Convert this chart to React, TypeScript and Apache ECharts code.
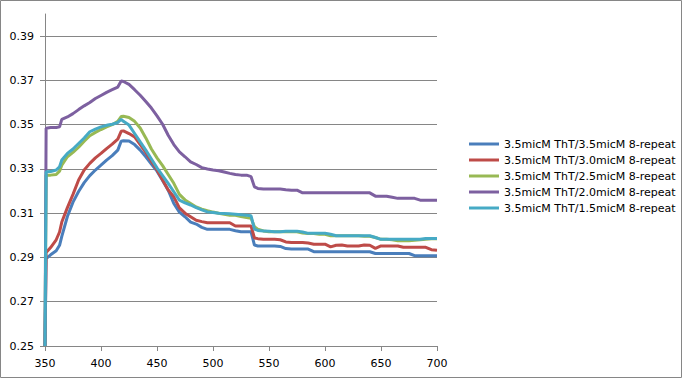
import React, { useEffect, useRef } from "react";
import * as echarts from "echarts";

const wavelengths = [350, 351, 355, 360, 363, 365, 370, 375, 380, 385, 390, 395, 400, 405, 410, 415, 418, 420, 425, 430, 435, 440, 445, 450, 455, 460, 465, 470, 475, 480, 485, 490, 495, 500, 505, 510, 515, 520, 525, 530, 534, 537, 540, 545, 550, 555, 560, 565, 570, 575, 580, 585, 590, 595, 600, 605, 610, 615, 620, 625, 630, 635, 640, 645, 650, 655, 660, 665, 670, 675, 680, 685, 690, 695, 700];

const s35 = [0.25, 0.2895, 0.2912, 0.293, 0.2955, 0.2995, 0.3085, 0.315, 0.3198, 0.3238, 0.327, 0.3295, 0.3317, 0.334, 0.336, 0.3385, 0.3425, 0.3427, 0.3426, 0.341, 0.3385, 0.3355, 0.3322, 0.329, 0.3248, 0.3204, 0.3144, 0.3105, 0.3084, 0.306, 0.3051, 0.3036, 0.3027, 0.3027, 0.3027, 0.3027, 0.3027, 0.3021, 0.3016, 0.3016, 0.3016, 0.2956, 0.2952, 0.2952, 0.2952, 0.2952, 0.295, 0.294, 0.2938, 0.2938, 0.2938, 0.2938, 0.2926, 0.2926, 0.2926, 0.2926, 0.2926, 0.2926, 0.2926, 0.2926, 0.2926, 0.2926, 0.2926, 0.2918, 0.2918, 0.2918, 0.2918, 0.2918, 0.2918, 0.2918, 0.2908, 0.2908, 0.2908, 0.2908, 0.2908];

const s30 = [0.25, 0.2922, 0.2945, 0.298, 0.3015, 0.306, 0.3125, 0.3185, 0.325, 0.3295, 0.3325, 0.335, 0.337, 0.3392, 0.3412, 0.3435, 0.347, 0.3472, 0.346, 0.3445, 0.341, 0.3375, 0.3335, 0.3295, 0.325, 0.3205, 0.3174, 0.3124, 0.31, 0.3084, 0.3068, 0.3062, 0.3057, 0.3057, 0.3057, 0.3057, 0.3057, 0.3042, 0.3042, 0.3042, 0.3042, 0.2988, 0.2985, 0.2982, 0.2982, 0.2982, 0.298, 0.297, 0.2968, 0.2968, 0.2968, 0.2965, 0.296, 0.296, 0.296, 0.2948, 0.2955, 0.2956, 0.2952, 0.2952, 0.2952, 0.2956, 0.2955, 0.2941, 0.2952, 0.2952, 0.2952, 0.2952, 0.2946, 0.2946, 0.2946, 0.2946, 0.2946, 0.2935, 0.2933];

const s25 = [0.25, 0.3272, 0.3272, 0.3275, 0.329, 0.3317, 0.3355, 0.3375, 0.3398, 0.3425, 0.345, 0.3465, 0.3478, 0.349, 0.35, 0.3515, 0.3537, 0.3538, 0.3532, 0.3515, 0.3485, 0.344, 0.339, 0.335, 0.3315, 0.3275, 0.3235, 0.3185, 0.316, 0.3144, 0.3128, 0.3118, 0.3111, 0.3105, 0.31, 0.3095, 0.3091, 0.3091, 0.3085, 0.308, 0.3077, 0.3039, 0.3028, 0.302, 0.3016, 0.3016, 0.3016, 0.3016, 0.3016, 0.3016, 0.301, 0.3008, 0.3008, 0.3005, 0.3005, 0.2998, 0.2998, 0.2998, 0.2998, 0.2998, 0.2998, 0.2996, 0.2996, 0.299, 0.2982, 0.2982, 0.298, 0.2976, 0.2976, 0.2976, 0.2978, 0.298, 0.2982, 0.2984, 0.2984];

const s20 = [0.25, 0.3484, 0.3487, 0.3487, 0.349, 0.3524, 0.3535, 0.355, 0.3568, 0.3585, 0.36, 0.3618, 0.3632, 0.3646, 0.3658, 0.367, 0.3697, 0.3695, 0.3682, 0.3658, 0.3633, 0.3605, 0.3575, 0.354, 0.3502, 0.3452, 0.341, 0.3377, 0.3355, 0.3332, 0.332, 0.3306, 0.33, 0.3295, 0.3292, 0.3286, 0.328, 0.3275, 0.3272, 0.3272, 0.3265, 0.3219, 0.3212, 0.3209, 0.3209, 0.3209, 0.3209, 0.3206, 0.3204, 0.3204, 0.3192, 0.3192, 0.3192, 0.3192, 0.3192, 0.3192, 0.3192, 0.3192, 0.3192, 0.3192, 0.3192, 0.3192, 0.3192, 0.3177, 0.3177, 0.3177, 0.3172, 0.3167, 0.3167, 0.3167, 0.3167, 0.3159, 0.3159, 0.3159, 0.3159];

const s15 = [0.25, 0.3287, 0.3288, 0.3295, 0.331, 0.334, 0.337, 0.339, 0.3415, 0.344, 0.3468, 0.348, 0.349, 0.3497, 0.3502, 0.351, 0.3524, 0.3515, 0.3498, 0.346, 0.3422, 0.3385, 0.3345, 0.3305, 0.327, 0.3235, 0.3197, 0.3159, 0.3147, 0.3137, 0.3125, 0.3115, 0.3106, 0.3103, 0.31, 0.3099, 0.3097, 0.3095, 0.3093, 0.3091, 0.3088, 0.3028, 0.3022, 0.302, 0.3018, 0.3016, 0.3016, 0.3018, 0.3019, 0.3019, 0.3015, 0.3009, 0.3009, 0.3009, 0.3009, 0.3005, 0.2998, 0.2998, 0.2998, 0.2998, 0.2998, 0.2998, 0.2998, 0.299, 0.2982, 0.2982, 0.2982, 0.2982, 0.2982, 0.2982, 0.2982, 0.2982, 0.2986, 0.2986, 0.2986];

const seriesNames = [
  "3.5micM ThT/3.5micM 8-repeat",
  "3.5micM ThT/3.0micM 8-repeat",
  "3.5micM ThT/2.5micM 8-repeat",
  "3.5micM ThT/2.0micM 8-repeat",
  "3.5micM ThT/1.5micM 8-repeat",
];
const seriesValues = [s35, s30, s25, s20, s15];
const colors = ["#4A7EBB", "#BE4B48", "#98B954", "#7D60A0", "#46AAC5"];

const yTicks = [0.25, 0.27, 0.29, 0.31, 0.33, 0.35, 0.37, 0.39];
const xTicks = [350, 400, 450, 500, 550, 600, 650, 700];

const FONT = "DejaVu Sans";

export default function App() {
  const ref = useRef<HTMLDivElement>(null);
  useEffect(() => {
    document.body.style.margin = "0";
    if (!ref.current) return;
    const chart = echarts.init(ref.current, undefined, { renderer: "svg" });
    chart.setOption({
      animation: false,
      backgroundColor: "#ffffff",
      color: colors,
      grid: { left: 45, right: 245, top: 14, bottom: 32 },
      graphic: [
        {
          type: "rect",
          shape: { x: 0.5, y: 0.5, width: 681, height: 377 },
          style: { fill: "none", stroke: "#868686", lineWidth: 1 },
          silent: true,
        },
      ],
      legend: {
        orient: "vertical",
        left: 464,
        top: 132,
        icon: "rect",
        itemWidth: 30,
        itemHeight: 3,
        itemGap: 2,
        textStyle: { fontFamily: FONT, fontSize: 11, color: "#000", lineHeight: 14 },
        data: seriesNames,
      },
      xAxis: {
        type: "value",
        min: 350,
        max: 700,
        interval: 50,
        axisLine: { show: true, lineStyle: { color: "#868686", width: 1 } },
        axisTick: { show: true, inside: false, length: 5, lineStyle: { color: "#868686" }, customValues: xTicks },
        axisLabel: { fontFamily: FONT, fontSize: 11, color: "#000", margin: 12, customValues: xTicks },
        splitLine: { show: false },
      },
      yAxis: {
        type: "value",
        min: 0.25,
        max: 0.4,
        axisLine: { show: true, lineStyle: { color: "#868686", width: 1 } },
        axisTick: { show: true, inside: false, length: 5, lineStyle: { color: "#868686" }, customValues: yTicks },
        axisLabel: {
          fontFamily: FONT,
          fontSize: 11,
          color: "#000",
          margin: 11,
          customValues: yTicks,
          formatter: (v: number) => v.toFixed(2),
        },
        splitLine: { show: true, lineStyle: { color: "#868686", width: 1 } },
      },
      series: seriesNames.map((name, i) => ({
        name,
        type: "line",
        data: wavelengths.map((w, j) => [w, seriesValues[i][j]]),
        showSymbol: false,
        symbol: "none",
        lineStyle: { width: 3, color: colors[i] },
        itemStyle: { color: colors[i] },
        z: 2 + i,
      })),
    });
    return () => chart.dispose();
  }, []);
  return <div ref={ref} style={{ width: 682, height: 378 }} />;
}
